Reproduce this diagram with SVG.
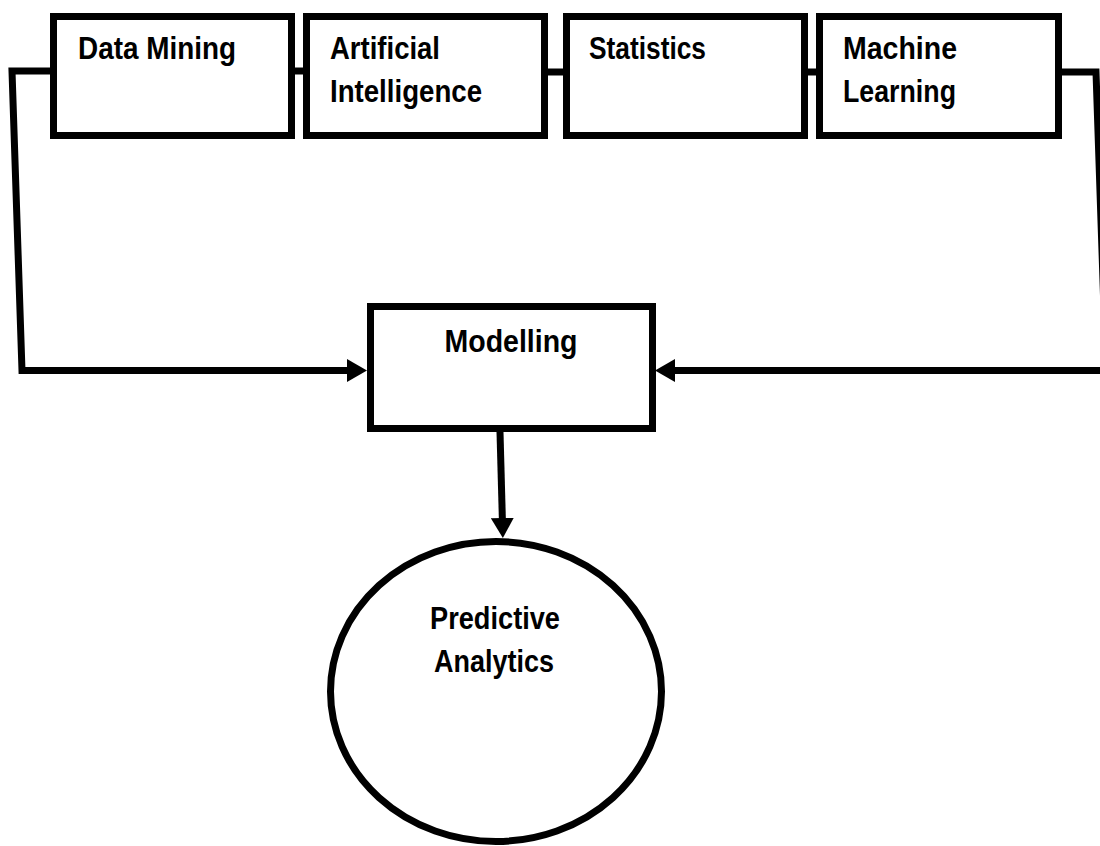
<svg xmlns="http://www.w3.org/2000/svg" width="1100" height="846" viewBox="0 0 1100 846">
  <style>
    .box { fill: #ffffff; stroke: #000000; stroke-width: 7; }
    .link { fill: none; stroke: #000000; stroke-width: 7; stroke-linejoin: miter; stroke-linecap: butt; }
    .label { font-family: "Liberation Sans", Arial, sans-serif; font-weight: bold; font-size: 30.5px; fill: #000000; }
  </style>
  <defs>
    <marker id="arrow" markerUnits="userSpaceOnUse" markerWidth="20" markerHeight="23" refX="10" refY="11.5" orient="auto">
      <path d="M0,0 L20,11.5 L0,23 z" fill="#000000"/>
    </marker>
  </defs>

  <rect x="0" y="0" width="1100" height="846" fill="#ffffff"/>

  <!-- connectors -->
  <g id="connectors">
    <polyline class="link" points="50,71 12,71 22,370.5 357,370.5" marker-end="url(#arrow)"/>
    <polyline class="link" points="1062,72 1096,72 1106,370.5 665,370.5" marker-end="url(#arrow)"/>
    <line class="link" x1="500" y1="432" x2="502.6" y2="528" marker-end="url(#arrow)"/>
    <line class="link" x1="295" y1="71" x2="303" y2="71"/>
    <line class="link" x1="548" y1="72" x2="563" y2="72"/>
    <line class="link" x1="808" y1="72" x2="816" y2="72"/>
  </g>

  <!-- source disciplines -->
  <g id="node-data-mining">
    <rect class="box" x="53.5" y="16.5" width="238" height="119"/>
    <text class="label" x="78" y="59" textLength="158" lengthAdjust="spacingAndGlyphs">Data Mining</text>
  </g>
  <g id="node-artificial-intelligence">
    <rect class="box" x="306.5" y="16.5" width="238" height="119"/>
    <text class="label" x="330" y="59" textLength="110" lengthAdjust="spacingAndGlyphs">Artificial</text>
    <text class="label" x="330" y="102" textLength="152" lengthAdjust="spacingAndGlyphs">Intelligence</text>
  </g>
  <g id="node-statistics">
    <rect class="box" x="566.5" y="16.5" width="238" height="119"/>
    <text class="label" x="589" y="59" textLength="117" lengthAdjust="spacingAndGlyphs">Statistics</text>
  </g>
  <g id="node-machine-learning">
    <rect class="box" x="819.5" y="16.5" width="239" height="119"/>
    <text class="label" x="843" y="59" textLength="114" lengthAdjust="spacingAndGlyphs">Machine</text>
    <text class="label" x="843" y="102" textLength="113" lengthAdjust="spacingAndGlyphs">Learning</text>
  </g>

  <!-- modelling step -->
  <g id="node-modelling">
    <rect class="box" x="370.5" y="306.5" width="282" height="122"/>
    <text class="label" x="511" y="352" text-anchor="middle" textLength="133" lengthAdjust="spacingAndGlyphs">Modelling</text>
  </g>

  <!-- outcome -->
  <g id="node-predictive-analytics">
    <ellipse class="box" cx="496" cy="691.5" rx="165.5" ry="150"/>
    <text class="label" x="495" y="629" text-anchor="middle" textLength="130" lengthAdjust="spacingAndGlyphs">Predictive</text>
    <text class="label" x="494" y="672" text-anchor="middle" textLength="120" lengthAdjust="spacingAndGlyphs">Analytics</text>
  </g>
</svg>
